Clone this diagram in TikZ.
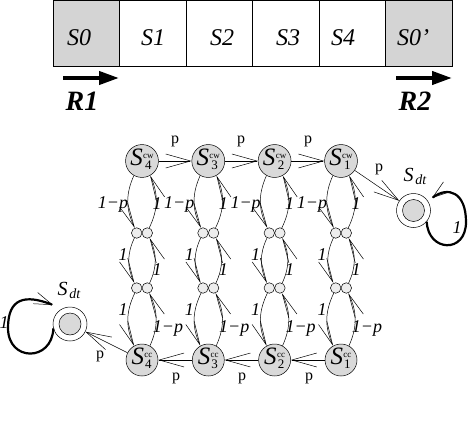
\documentclass[tikz,border=0pt]{standalone}
\usepackage{fontspec}
\setmainfont{Liberation Serif}
\usetikzlibrary{arrows.meta}
\newcommand\mystate[2]{{\fontsize{25}{25}\selectfont\itshape S}\hspace{0.3pt}\raisebox{2pt}{\begin{tabular}{@{}c@{}}\fontsize{9}{9}\selectfont #1\\[-1.5pt]\fontsize{13}{13}\selectfont #2\end{tabular}}}
\newcommand\mysdt{{\fontsize{20}{20}\selectfont\itshape S}\,\raisebox{-3pt}{\fontsize{14}{14}\selectfont\itshape dt}}
\begin{document}
\begin{tikzpicture}[x=1pt,y=1pt,
  cell/.style={draw, line width=0.6pt, minimum width=66.5pt, minimum height=65.5pt, inner sep=0pt, outer sep=0pt, anchor=north west},
  celltxt/.style={font=\fontsize{24}{24}\selectfont\itshape},
  rlab/.style={font=\fontsize{28}{28}\selectfont\bfseries\itshape},
  fat/.style={line width=4pt, -{Triangle[length=20pt,width=13pt]}},
  state/.style={circle, draw, line width=0.5pt, fill=black!15, minimum size=32pt, inner sep=0pt},
  dot/.style={circle, draw, line width=0.5pt, fill=black!7, minimum size=10.5pt, inner sep=0pt},
  outerc/.style={circle, draw, line width=0.5pt, minimum size=34pt, inner sep=0pt},
  innerc/.style={circle, draw, line width=0.5pt, fill=black!15, minimum size=22pt, inner sep=0pt},
  barb/.style={line width=0.5pt, -{Straight Barb[length=25pt,width=14pt,line width=0.5pt]}},
  vbarb/.style={line width=0.5pt, -{Straight Barb[length=24pt,width=9pt,line width=0.5pt]}},
  pl/.style={font=\fontsize{16}{16}\selectfont},
  il/.style={font=\fontsize{18}{18}\selectfont\itshape},
  loopline/.style={line width=2.2pt, -{Straight Barb[length=18pt,width=12pt,line width=0.5pt]}},
]
\useasboundingbox (0,0) rectangle (476,-420);
% top strip
\node[cell, fill=black!17] (c0) at (53,-0.5) {};
\node[cell] (c1) at (119.5,-0.5) {};
\node[cell] (c2) at (186,-0.5) {};
\node[cell] (c3) at (252.5,-0.5) {};
\node[cell] (c4) at (319,-0.5) {};
\node[cell, fill=black!17] (c5) at (385.5,-0.5) {};
\node[celltxt] (t0) at (79,-38) {S0};
\node[celltxt] (t1) at (153,-38) {S1};
\node[celltxt] (t2) at (222,-38) {S2};
\node[celltxt] (t3) at (288,-38) {S3};
\node[celltxt] (t4) at (343,-38) {S4};
\node[celltxt] (t5) at (413,-38) {S0'};
\coordinate (r1a) at (63,-78);
\coordinate (r1b) at (119,-78);
\coordinate (r2a) at (396,-78);
\coordinate (r2b) at (452,-78);
\draw[fat] (r1a) -- (r1b);
\draw[fat] (r2a) -- (r2b);
\node[rlab] (R1) at (82,-101) {R1};
\node[rlab] (R2) at (415,-101) {R2};
% chain
\foreach \i/\x in {4/142,3/208.3,2/274.6,1/341}{
  \node[state] (T\i) at (\x,-161) {\mystate{cw}{\i}};
  \node[state] (B\i) at (\x,-360) {\mystate{cc}{\i}};
  \node[dot] (p\i) at (\x-5.3,-233) {};
  \node[dot] (q\i) at (\x+5.3,-233) {};
  \node[dot] (r\i) at (\x-5.3,-288) {};
  \node[dot] (s\i) at (\x+5.3,-288) {};
  \draw[vbarb] (T\i) to[bend right=25] (p\i);
  \draw[vbarb] (q\i) to[bend right=25] (T\i);
  \draw[vbarb] (p\i) to[bend right=25] (r\i);
  \draw[vbarb] (s\i) to[bend right=25] (q\i);
  \draw[vbarb] (r\i) to[bend right=25] (B\i);
  \draw[vbarb] (B\i) to[bend right=25] (s\i);
  \node[il] (la\i) at (\x-29,-204) {1−p};
  \node[il] (lb\i) at (\x+15,-204) {1};
  \node[il] (lc\i) at (\x-19,-255) {1};
  \node[il] (ld\i) at (\x+15,-270) {1};
  \node[il] (le\i) at (\x-19,-310) {1};
  \node[il] (lf\i) at (\x+26,-328) {1−p};
}
\draw[barb] (T4) -- (T3);
\draw[barb] (T3) -- (T2);
\draw[barb] (T2) -- (T1);
\draw[barb] (B1) -- (B2);
\draw[barb] (B2) -- (B3);
\draw[barb] (B3) -- (B4);
\node[pl] (pa) at (175,-141) {p};
\node[pl] (pb) at (241,-141) {p};
\node[pl] (pc) at (308,-141) {p};
\node[pl] (pd) at (176,-378) {p};
\node[pl] (pe) at (242,-378) {p};
\node[pl] (pf) at (309,-378) {p};
% dead states
\node[outerc] (sdtR) at (413.5,-210.5) {};
\node[innerc] (sdtRi) at (413.5,-210.5) {};
\node[outerc] (sdtL) at (70,-324) {};
\node[innerc] (sdtLi) at (70,-324) {};
\node (ldR) at (415,-176) {\mysdt};
\node (ldL) at (69,-290) {\mysdt};
\draw[barb] (T1) -- (sdtR);
\draw[barb] (B4) -- (sdtL);
\node[pl] (pg) at (379,-169) {p};
\node[pl] (ph) at (100,-356) {p};
\draw[loopline] (sdtR.-40) .. controls (428,-252) and (466,-254) .. (466,-222)
   .. controls (466,-192) and (448,-186) .. (432,-198);
\draw[loopline] (sdtL.195) .. controls (52,-362) and (8,-362) .. (8,-328)
   .. controls (8,-298) and (25,-294) .. (53,-305);
\node[il] (l1R) at (457,-228) {1};
\node[il] (l1L) at (4,-323) {1};
\end{tikzpicture}
\end{document}
